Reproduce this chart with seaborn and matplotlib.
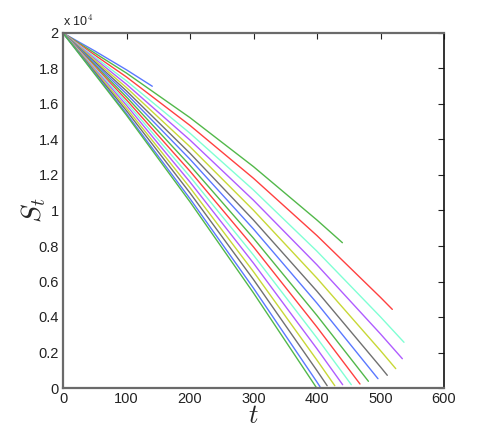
import matplotlib
matplotlib.use("Agg")
import matplotlib.pyplot as plt
import seaborn as sns
import pandas as pd

# ---- data (t, S_t) ----
t_00 = [0, 50, 100, 140.6]
s_00 = [20000, 18990, 17925, 17000]
t_01 = [0, 100, 200, 300, 400, 440]
s_01 = [20000, 17740, 15230, 12470, 9460, 8186]
t_02 = [0, 100, 200, 300, 400, 500, 518.6]
s_02 = [20000, 17521, 14792, 11813, 8584, 5105, 4430]
t_03 = [0, 100, 200, 300, 400, 500, 537]
s_03 = [20000, 17301, 14352, 11153, 7704, 4005, 2575]
t_04 = [0, 100, 200, 300, 400, 500, 534.4]
s_04 = [20000, 17109, 13968, 10577, 6936, 3045, 1650]
t_05 = [0, 100, 200, 300, 400, 500, 524]
s_05 = [20000, 16921, 13592, 10013, 6184, 2105, 1090]
t_06 = [0, 100, 200, 300, 400, 500, 510.7]
s_06 = [20000, 16737, 13224, 9461, 5448, 1185, 715]
t_07 = [0, 100, 200, 300, 400, 496]
s_07 = [20000, 16569, 12888, 8957, 4776, 525]
t_08 = [0, 100, 200, 300, 400, 481]
s_08 = [20000, 16396, 12542, 8438, 4084, 377]
t_09 = [0, 100, 200, 300, 400, 467.7]
s_09 = [20000, 16232, 12214, 7946, 3428, 225]
t_10 = [0, 100, 200, 300, 400, 454]
s_10 = [20000, 16079, 11908, 7487, 2816, 186]
t_11 = [0, 100, 200, 300, 400, 440.4]
s_11 = [20000, 15927, 11604, 7031, 2208, 186]
t_12 = [0, 100, 200, 300, 400, 428]
s_12 = [20000, 15767, 11284, 6551, 1568, 130]
t_13 = [0, 100, 200, 300, 400, 416]
s_13 = [20000, 15619, 10988, 6107, 976, 130]
t_14 = [0, 100, 200, 300, 400, 404.7]
s_14 = [20000, 15458, 10666, 5624, 332, 75]
t_15 = [0, 100, 200, 300, 399.5]
s_15 = [20000, 15368, 10486, 5354, 0]

series_t = [t_00, t_01, t_02, t_03, t_04, t_05, t_06, t_07,
            t_08, t_09, t_10, t_11, t_12, t_13, t_14, t_15]
series_s = [s_00, s_01, s_02, s_03, s_04, s_05, s_06, s_07,
            s_08, s_09, s_10, s_11, s_12, s_13, s_14, s_15]

x_ticks = [0, 100, 200, 300, 400, 500, 600]
y_ticks = [0, 2000, 4000, 6000, 8000, 10000, 12000, 14000, 16000, 18000, 20000]
y_tick_labels = ["0", "0.2", "0.4", "0.6", "0.8", "1", "1.2", "1.4", "1.6", "1.8", "2"]

cycle = ["#5a78ff", "#52b84a", "#ff4040", "#80ffd4", "#b05cff", "#c8d836", "#707070"]

rows = []
for i, (ts, ss) in enumerate(zip(series_t, series_s)):
    for k, (tv, sv) in enumerate(zip(ts, ss)):
        rows.append({"t": tv, "S": sv, "line": f"L{i:02d}", "k": k})
df = pd.DataFrame(rows)
names = [f"L{i:02d}" for i in range(len(series_t))]
palette = {n: cycle[i % len(cycle)] for i, n in enumerate(names)}

sns.set_style("white")
plt.rcParams["font.family"] = ["Liberation Sans", "DejaVu Sans"]
plt.rcParams["mathtext.fontset"] = "cm"

fig = plt.figure(figsize=(4.91, 4.36), dpi=100)
ax = fig.add_axes([63 / 491, 1 - 388 / 436, 381 / 491, 355 / 436])

sns.lineplot(data=df, x="t", y="S", hue="line", palette=palette,
             estimator=None, sort=False, units=None, legend=False,
             linewidth=1.0, ax=ax)

ax.set_xlim(0, 600)
ax.set_ylim(0, 20000)
ax.set_xticks(x_ticks)
ax.set_xticklabels([str(v) for v in x_ticks], fontsize=10.5)
ax.set_yticks(y_ticks)
ax.set_yticklabels(y_tick_labels, fontsize=10.5)
ax.tick_params(direction="in", length=4, width=0.8, top=True, right=True,
               colors="#222222", pad=3)
for side in ["left", "top", "bottom"]:
    ax.spines[side].set_color("#6a6a6a")
    ax.spines[side].set_linewidth(1.6)
ax.spines["right"].set_color("#111111")
ax.spines["right"].set_linewidth(1.2)

ax.set_xlabel("$t$", fontsize=19)
ax.set_ylabel("$S_t$", fontsize=20)
ax.xaxis.set_label_coords(0.5, -0.045)
ax.yaxis.set_label_coords(-0.04, 0.5)
ax.text(0.0, 1.012, "x 10$^{4}$", transform=ax.transAxes, fontsize=9,
        ha="left", va="bottom", color="#222222")

fig.savefig("out.png", dpi=100)
